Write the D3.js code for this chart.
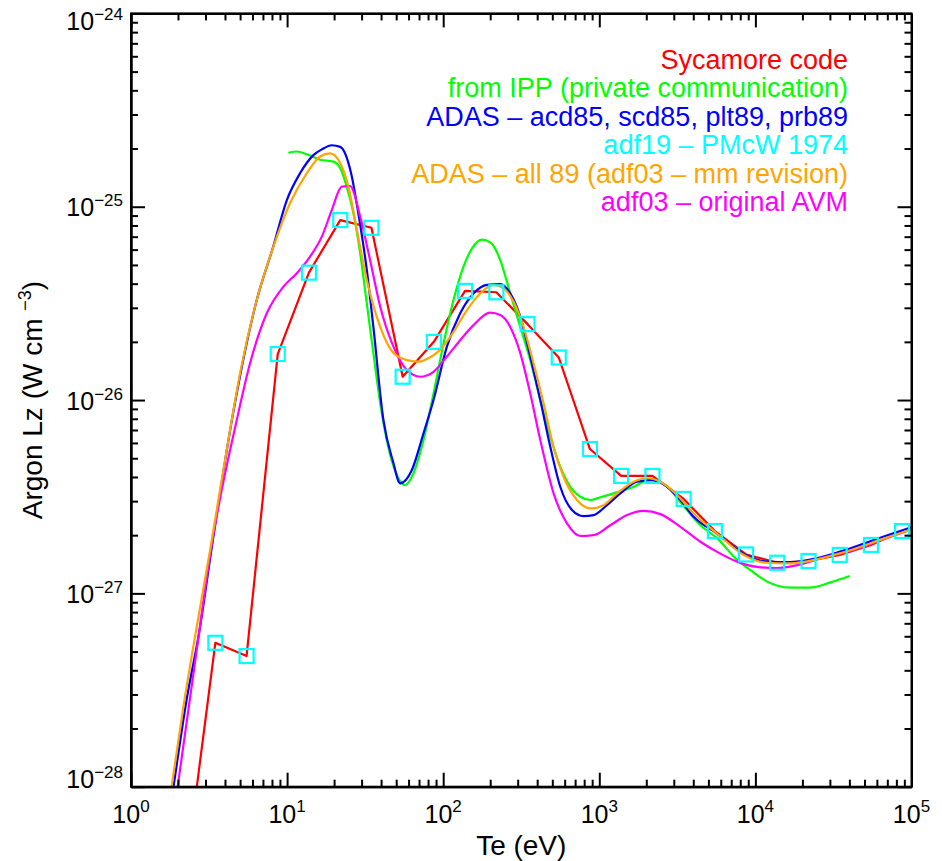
<!DOCTYPE html>
<html>
<head>
<meta charset="utf-8">
<script src="https://cdn.jsdelivr.net/npm/d3@7"></script>
<style>
  html, body { margin: 0; padding: 0; background: #fff; }
  svg { display: block; font-family: "Liberation Sans", Arial, Helvetica, sans-serif; }
</style>
</head>
<body>
<svg id="chart" width="942" height="861"></svg>
<script>
// Argon radiated power coefficient Lz versus electron temperature Te.

// Sycamore code (grid of 5 points per decade, shown with markers)
const sycTe = [2.19, 3.47, 5.50, 8.71, 13.8, 21.9, 34.7, 55.0, 87.1, 138, 219, 347, 550, 871,
               1380, 2190, 3470, 5500, 8710, 13800, 21900, 34700, 55000, 87100];
const sycLz = [3.1e-29, 5.55e-28, 4.74e-28, 1.73e-26, 4.56e-26, 8.53e-26, 7.78e-26, 1.32e-26,
               2.00e-26, 3.67e-26, 3.61e-26, 2.47e-26, 1.66e-26, 5.58e-27, 4.05e-27, 4.05e-27,
               3.08e-27, 2.10e-27, 1.59e-27, 1.44e-27, 1.47e-27, 1.58e-27, 1.78e-27, 2.10e-27];

// from IPP (private communication)
const ippTe = [10.2, 11.5, 13.37, 16.27, 19.8, 21.9, 24.1, 26.6, 29.4, 32.4, 35.7, 39.5, 47.1, 53.0,
               57.1, 64.5, 74.8, 86.7, 100.5, 116.4, 134.9, 153.4, 177.8, 203.1, 231.9, 268.8, 311.6,
               361.2, 418.8, 485.3, 562.3, 651.6, 755.5, 875.6, 1015, 1235, 1660, 2123, 2716, 3470,
               4440, 5680, 7630, 9290, 11890, 16760, 22520, 30270, 40230];
const ippLz = [1.90e-25, 1.93e-25, 1.87e-25, 1.75e-25, 1.71e-25, 1.58e-25, 1.27e-25, 9.25e-26,
               5.74e-26, 3.16e-26, 1.75e-26, 9.62e-27, 4.78e-27, 3.81e-27, 3.63e-27, 4.18e-27,
               6.21e-27, 1.08e-26, 1.96e-26, 3.29e-26, 4.90e-26, 6.11e-26, 6.76e-26, 6.49e-26,
               5.30e-26, 3.56e-26, 2.39e-26, 1.61e-26, 1.00e-26, 6.46e-27, 4.52e-27, 3.56e-27,
               3.16e-27, 3.04e-27, 3.14e-27, 3.29e-27, 3.56e-27, 3.89e-27, 3.56e-27, 2.83e-27,
               2.25e-27, 1.93e-27, 1.49e-27, 1.32e-27, 1.15e-27, 1.07e-27, 1.07e-27, 1.14e-27, 1.23e-27];

// ADAS - acd85, scd85, plt89, prb89
const adas85Te = [1.873, 2.285, 2.73, 3.26, 4.42, 6.39, 8.17, 9.95, 12.1, 14.74, 16.69, 19.34, 21.9,
                  25.7, 28.6, 32.4, 35.7, 41.4, 47.8, 53.0, 63.0, 74.8, 86.7, 105.6, 128.5, 156.4,
                  190.6, 231.9, 268.8, 311.6, 361.2, 418.8, 485.3, 562.3, 668.3, 793.1, 919.3, 1120,
                  1363, 1745, 2123, 2583, 3305, 4023, 5680, 8414, 11890, 16760, 24860, 40640, 66440, 100000];
const adas85Lz = [1.00e-28, 2.90e-28, 6.24e-28, 1.64e-27, 7.80e-27, 3.29e-26, 6.26e-26, 1.08e-25,
                  1.49e-25, 1.85e-25, 1.98e-25, 2.08e-25, 2.04e-25, 1.49e-25, 9.25e-26, 4.71e-26,
                  2.39e-26, 7.89e-27, 4.78e-27, 3.71e-27, 4.35e-27, 6.73e-27, 1.00e-26, 1.89e-26,
                  2.81e-26, 3.56e-26, 3.94e-26, 3.98e-26, 3.56e-26, 2.70e-26, 1.68e-26, 1.00e-26,
                  5.73e-27, 3.56e-27, 2.70e-27, 2.51e-27, 2.54e-27, 2.86e-27, 3.29e-27, 3.78e-27,
                  3.85e-27, 3.67e-27, 3.04e-27, 2.49e-27, 2.04e-27, 1.60e-27, 1.46e-27, 1.45e-27,
                  1.52e-27, 1.71e-27, 1.97e-27, 2.20e-27];

// ADAS - all 89 (adf03 - mm revision)
const adas89Te = [1.82, 2.165, 2.57, 3.21, 4.42, 5.00, 6.39, 8.17, 10.45, 13.37, 16.27, 18.87, 21.9,
                  24.7, 28.0, 32.4, 39.5, 48.0, 58.5, 71.2, 78.6, 95.7, 116.4, 141.9, 172.7, 210,
                  243.5, 282.2, 327, 379, 439.5, 509.6, 590.4, 719.6, 875.6, 1066, 1299, 1660, 2023,
                  2461, 3148, 4023, 5680, 8414, 11890, 16760, 24860, 40640, 66440, 100000];
const adas89Lz = [1.00e-28, 2.59e-28, 5.96e-28, 1.67e-27, 7.89e-27, 1.38e-26, 3.29e-26, 6.21e-26,
                  1.045e-25, 1.49e-25, 1.82e-25, 1.89e-25, 1.68e-25, 1.27e-25, 7.57e-26, 4.18e-26,
                  2.39e-26, 1.75e-26, 1.61e-26, 1.58e-26, 1.63e-26, 1.82e-26, 2.25e-26, 2.92e-26,
                  3.56e-26, 3.94e-26, 3.78e-26, 3.23e-26, 2.39e-26, 1.55e-26, 9.62e-27, 5.73e-27,
                  4.01e-27, 3.04e-27, 2.75e-27, 2.86e-27, 3.29e-27, 3.78e-27, 3.94e-27, 3.78e-27,
                  3.23e-27, 2.59e-27, 2.04e-27, 1.58e-27, 1.44e-27, 1.43e-27, 1.50e-27, 1.67e-27,
                  1.92e-27, 2.14e-27];

// adf03 - original AVM
const avmTe = [1.99, 2.38, 2.73, 3.21, 4.76, 5.79, 7.41, 9.47, 11.5, 14.0, 16.69, 19.34, 22.4, 25.3,
               29.4, 34.0, 39.5, 48.0, 58.5, 71.2, 86.7, 105.6, 128.5, 156.4, 200, 231.9, 268.8,
               311.6, 361.2, 418.8, 509.6, 620.9, 755.5, 919.3, 1176, 1505, 1923, 2461, 3305, 4440,
               5680, 7630, 10260, 13770, 18500, 24860, 33400, 40640, 66440, 100000];
const avmLz = [1.00e-28, 2.81e-28, 6.24e-28, 1.58e-27, 7.89e-27, 1.55e-26, 2.81e-26, 3.86e-26,
               4.52e-26, 5.51e-26, 7.00e-26, 9.62e-26, 1.27e-25, 1.28e-25, 8.87e-26, 5.30e-26,
               3.04e-26, 1.89e-26, 1.43e-26, 1.32e-26, 1.40e-26, 1.68e-26, 2.04e-26, 2.44e-26,
               2.83e-26, 2.75e-26, 2.39e-26, 1.75e-26, 1.08e-26, 6.21e-27, 3.29e-27, 2.30e-27,
               1.98e-27, 2.00e-27, 2.25e-27, 2.54e-27, 2.67e-27, 2.57e-27, 2.21e-27, 1.85e-27,
               1.64e-27, 1.46e-27, 1.37e-27, 1.35e-27, 1.40e-27, 1.50e-27, 1.60e-27, 1.66e-27,
               1.91e-27, 2.14e-27];

// Legend entries (top to bottom)
const legendLabels = [
  "Sycamore code",
  "from IPP (private communication)",
  "ADAS \u2013 acd85, scd85, plt89, prb89",
  "adf19 \u2013 PMcW 1974",
  "ADAS \u2013 all 89 (adf03 \u2013 mm revision)",
  "adf03 \u2013 original AVM"
];
const legendColors = ["#ff0000", "#00ff00", "#0000ff", "#00ffff", "#ffa500", "#ff00ff"];

// Axis decades
const xDecades = [0, 1, 2, 3, 4, 5];
const yDecades = [-24, -25, -26, -27, -28];

const svg = d3.select("#chart");
const pLeft = 131, pRight = 911.5, pTop = 13.4, pBottom = 786.7;

const x = d3.scaleLog().domain([1, 1e5]).range([pLeft, pRight]);
const y = d3.scaleLog().domain([1e-28, 1e-24]).range([pBottom, pTop]);

const zip = (a, b) => a.map((v, i) => [v, b[i]]);

// clip region for the data
svg.append("defs").append("clipPath").attr("id", "plotclip")
  .append("rect").attr("x", pLeft).attr("y", pTop)
  .attr("width", pRight - pLeft).attr("height", pBottom - pTop);

const plot = svg.append("g").attr("clip-path", "url(#plotclip)");

const smooth = d3.line().x(d => x(d[0])).y(d => y(d[1])).curve(d3.curveMonotoneX);
const straight = d3.line().x(d => x(d[0])).y(d => y(d[1]));

function drawLine(data, color, gen) {
  plot.append("path").datum(data)
    .attr("d", gen)
    .attr("fill", "none")
    .attr("stroke", color)
    .attr("stroke-width", 2.2)
    .attr("stroke-linejoin", "round");
}

// Sycamore code: polyline with square markers
drawLine(zip(sycTe, sycLz), legendColors[0], straight);
drawLine(zip(ippTe, ippLz), legendColors[1], smooth);
drawLine(zip(adas85Te, adas85Lz), legendColors[2], smooth);
drawLine(zip(avmTe, avmLz), legendColors[5], smooth);
drawLine(zip(adas89Te, adas89Lz), legendColors[4], smooth);

const sq = 14;
plot.selectAll("rect.mark").data(zip(sycTe, sycLz)).enter().append("rect")
  .attr("class", "mark")
  .attr("x", d => x(d[0]) - sq / 2)
  .attr("y", d => y(d[1]) - sq / 2)
  .attr("width", sq).attr("height", sq)
  .attr("fill", "none")
  .attr("stroke", legendColors[3])
  .attr("stroke-width", 2.2);

// Axes: inward ticks on all four sides
function tickSet(dom) {
  const major = [], minor = [];
  for (let e = dom[0]; e < dom[1]; e++) {
    major.push(Math.pow(10, e));
    for (let m = 2; m <= 9; m++) minor.push(m * Math.pow(10, e));
  }
  major.push(Math.pow(10, dom[1]));
  return { major, minor };
}
const xt = tickSet([0, 5]);
const yt = tickSet([-28, -24]);

function addAxis(axisFn, scale, values, size, transform) {
  const g = svg.append("g").attr("transform", transform)
    .call(axisFn(scale).tickValues(values).tickSizeInner(size).tickSizeOuter(0).tickFormat(""));
  g.selectAll("path.domain").attr("stroke", "#000").attr("stroke-width", 2);
  g.selectAll(".tick line").attr("stroke", "#000").attr("stroke-width", 2);
  return g;
}
addAxis(d3.axisBottom, x, xt.major, -14, `translate(0,${pBottom})`);
addAxis(d3.axisBottom, x, xt.minor, -7, `translate(0,${pBottom})`);
addAxis(d3.axisTop, x, xt.major, -14, `translate(0,${pTop})`);
addAxis(d3.axisTop, x, xt.minor, -7, `translate(0,${pTop})`);
addAxis(d3.axisLeft, y, yt.major, -14, `translate(${pLeft},0)`);
addAxis(d3.axisLeft, y, yt.minor, -7, `translate(${pLeft},0)`);
addAxis(d3.axisRight, y, yt.major, -14, `translate(${pRight},0)`);
addAxis(d3.axisRight, y, yt.minor, -7, `translate(${pRight},0)`);

// frame
svg.append("rect").attr("x", pLeft).attr("y", pTop)
  .attr("width", pRight - pLeft).attr("height", pBottom - pTop)
  .attr("fill", "none").attr("stroke", "#000").attr("stroke-width", 2);

// Tick labels as 10 with superscript exponent
const minus = "\u2212";
xDecades.forEach(e => {
  const t = svg.append("text")
    .attr("x", x(Math.pow(10, e))).attr("y", 823)
    .attr("text-anchor", "middle").attr("font-size", 25).attr("fill", "#000");
  t.append("tspan").text("10");
  t.append("tspan").attr("dy", -11).attr("font-size", 17).text(String(e));
});
yDecades.forEach((e, i) => {
  let by = y(Math.pow(10, e)) + 9.5;
  if (i === 0) by += 7.5;
  if (i === yDecades.length - 1) by -= 8;
  const t = svg.append("text")
    .attr("x", 123).attr("y", by)
    .attr("text-anchor", "end").attr("font-size", 25).attr("fill", "#000");
  t.append("tspan").text("10");
  t.append("tspan").attr("dy", -10).attr("font-size", 17).text(minus + String(-e));
});

// Axis titles
svg.append("text")
  .attr("x", (pLeft + pRight) / 2).attr("y", 855)
  .attr("text-anchor", "middle").attr("font-size", 28).attr("fill", "#000")
  .text("Te (eV)");

const yTitle = svg.append("text")
  .attr("transform", `translate(42,${(pTop + pBottom) / 2}) rotate(-90)`)
  .attr("text-anchor", "middle").attr("font-size", 28).attr("fill", "#000");
yTitle.append("tspan").text("Argon Lz (W cm ");
yTitle.append("tspan").attr("dy", -11).attr("font-size", 18).text(minus + "3");
yTitle.append("tspan").attr("dy", 11).text(")");

// Legend (right-aligned coloured text)
svg.selectAll("text.legend").data(legendLabels).enter().append("text")
  .attr("class", "legend")
  .attr("x", 848)
  .attr("y", (d, i) => 69 + i * 28.4)
  .attr("text-anchor", "end")
  .attr("font-size", 27)
  .attr("fill", (d, i) => legendColors[i])
  .text(d => d);
</script>
</body>
</html>
